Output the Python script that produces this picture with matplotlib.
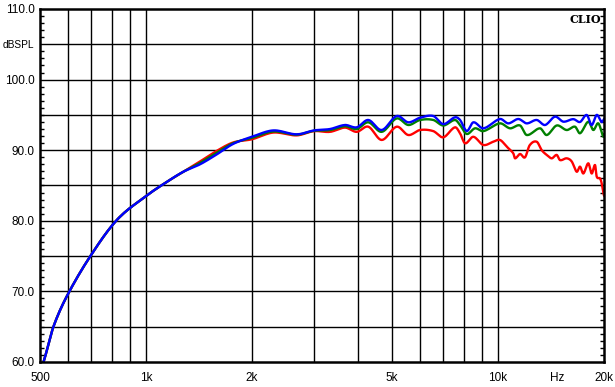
import numpy as np
import matplotlib
matplotlib.use("Agg")
import matplotlib.pyplot as plt

# ---- data (frequency in Hz, level in dB SPL) ----
low_freq = [500, 517, 545, 595, 693, 826, 1000, 1145, 1277, 1424, 1588, 1770, 2000, 2300, 2680, 3000, 3333]
low_blue = [58.3, 60.75, 64.9, 69.25, 74.9, 80.1, 83.5, 85.5, 86.95, 88.0, 89.4, 90.9, 91.9, 92.8, 92.25, 92.8, 93.0]
low_green = [58.3, 60.75, 64.9, 69.25, 74.9, 80.1, 83.5, 85.5, 86.95, 88.2, 89.65, 91.0, 91.75, 92.65, 92.2, 92.75, 92.85]
low_red = [58.3, 60.75, 64.9, 69.25, 74.9, 80.1, 83.5, 85.5, 86.95, 88.4, 89.9, 91.1, 91.55, 92.5, 92.1, 92.7, 92.6]

blue_freq = [3676, 3968, 4281, 4673, 5155, 5562, 6005, 6550, 6990, 7547, 7800, 8150, 8510, 9085,
             10130, 10695, 11420, 12065, 12880, 13600, 14520, 15330, 16365, 17100, 17865, 18455,
             19070, 19700, 20000]
blue_db = [93.57, 93.24, 94.28, 92.86, 94.84, 93.95, 94.6, 94.84, 93.7, 94.66, 94.28, 92.72, 93.95, 93.1,
           94.42, 93.8, 94.42, 93.8, 94.28, 93.57, 94.75, 94.04, 94.4, 94.0, 94.99, 93.57,
           95.0, 94.0, 94.4]

green_freq = [3676, 3968, 4281, 4673, 5155, 5562, 6005, 6550, 6990, 7547, 7800, 8150, 8600, 9085,
              10130, 10815, 11550, 12065, 13160, 13750, 14680, 15670, 16545, 17100, 18050, 18650,
              19270, 19910, 20000]
green_db = [93.4, 93.0, 93.95, 92.6, 94.5, 93.57, 94.28, 94.28, 93.5, 94.28, 93.57, 92.3, 93.1, 92.7,
            93.8, 93.1, 93.5, 92.15, 93.1, 92.15, 93.5, 92.86, 93.33, 92.4, 94.04, 92.86,
            93.8, 91.9, 92.2]

red_freq = [3676, 3968, 4281, 4673, 5155, 5562, 6005, 6550, 6990, 7547, 7800, 8060, 8510, 9085,
            9695, 10130, 10585, 11050, 11175, 11550, 11930, 12300, 12880, 13310, 13750, 14210, 14680,
            15000, 15670, 16195, 16730, 17100, 17470, 18050, 18455, 18860, 19070, 19485, 19700,
            19910, 20000]
red_db = [93.2, 92.6, 93.33, 91.45, 93.33, 92.15, 92.86, 92.7, 91.83, 93.24, 92.4, 90.98, 91.9, 90.74,
          91.2, 91.45, 90.5, 89.56, 88.85, 89.46, 88.99, 90.7, 91.2, 90.0, 89.33, 88.85, 89.33,
          88.6, 88.85, 88.4, 86.95, 87.67, 86.7, 88.14, 86.7, 87.9, 86.25, 86.0, 85.3,
          83.9, 83.6]

x_tick_vals = [500, 1000, 2000, 5000, 10000, 14700, 20000]
x_tick_labels = ["500", "1k", "2k", "5k", "10k", "Hz", "20k"]
x_grid = [600, 700, 800, 900, 1000, 2000, 3000, 4000, 5000, 6000, 7000, 8000, 9000, 10000]
y_tick_vals = [60, 70, 80, 90, 100, 105, 110]
y_tick_labels = ["60.0", "70.0", "80.0", "90.0", "100.0", "dBSPL", "110.0"]


def smooth(f, y, n=12):
    x = np.log10(np.asarray(f, float))
    y = np.asarray(y, float)
    m = np.zeros_like(y)
    m[1:-1] = (y[2:] - y[:-2]) / (x[2:] - x[:-2])
    m[0] = (y[1] - y[0]) / (x[1] - x[0])
    m[-1] = (y[-1] - y[-2]) / (x[-1] - x[-2])
    xs, ys = [], []
    for i in range(len(x) - 1):
        h = x[i + 1] - x[i]
        t = np.linspace(0, 1, n, endpoint=False)
        h00 = 2 * t**3 - 3 * t**2 + 1
        h10 = t**3 - 2 * t**2 + t
        h01 = -2 * t**3 + 3 * t**2
        h11 = t**3 - t**2
        xs.append(x[i] + t * h)
        ys.append(h00 * y[i] + h10 * h * m[i] + h01 * y[i + 1] + h11 * h * m[i + 1])
    xs.append([x[-1]])
    ys.append([y[-1]])
    return 10 ** np.concatenate(xs), np.concatenate(ys)


plt.rcParams['font.family'] = ['Liberation Sans', 'DejaVu Sans']
fig = plt.figure(figsize=(6.15, 3.87), dpi=100)
ax = fig.add_axes([40 / 615, 1 - 362 / 387, 564 / 615, 353 / 387])
ax.set_xscale('log')
ax.set_xlim(500, 20000)
ax.set_ylim(60, 110)

for g in x_grid:
    ax.axvline(g, color='black', lw=1.0, zorder=1)
for g in range(65, 110, 5):
    ax.axhline(g, color='black', lw=1.0, zorder=1)

series = [
    (low_red, red_freq, red_db, '#ff0000'),
    (low_green, green_freq, green_db, '#008000'),
    (low_blue, blue_freq, blue_db, '#0000ff'),
]
for low, hf, hd, col in series:
    f = list(low_freq) + list(hf)
    d = list(low) + list(hd)
    xs, ys = smooth(f, d)
    ax.plot(xs, ys, color=col, lw=1.7, zorder=3, clip_on=True)

ax.set_xticks(x_tick_vals)
ax.set_xticklabels(x_tick_labels)
ax.xaxis.set_minor_locator(matplotlib.ticker.NullLocator())
ax.tick_params(axis='x', length=0, pad=7, labelsize=8.5)
ax.set_yticks(y_tick_vals)
ax.set_yticklabels(y_tick_labels)
ax.tick_params(axis='y', length=0, pad=4, labelsize=8.5)
for lbl in ax.get_yticklabels():
    if lbl.get_text() == "dBSPL":
        lbl.set_fontsize(7.3)
ax.set_yticks(np.arange(60, 111, 1), minor=True)
ax.tick_params(axis='y', which='minor', direction='in', length=3, width=1, left=True, right=True)

for s in ax.spines.values():
    s.set_linewidth(1.8)
    s.set_zorder(5)

ax.text(0.995, 0.985, 'CLIO', transform=ax.transAxes, ha='right', va='top',
        fontsize=8, fontweight='bold', family=['DejaVu Serif'])

fig.savefig('out.png', dpi=100)
